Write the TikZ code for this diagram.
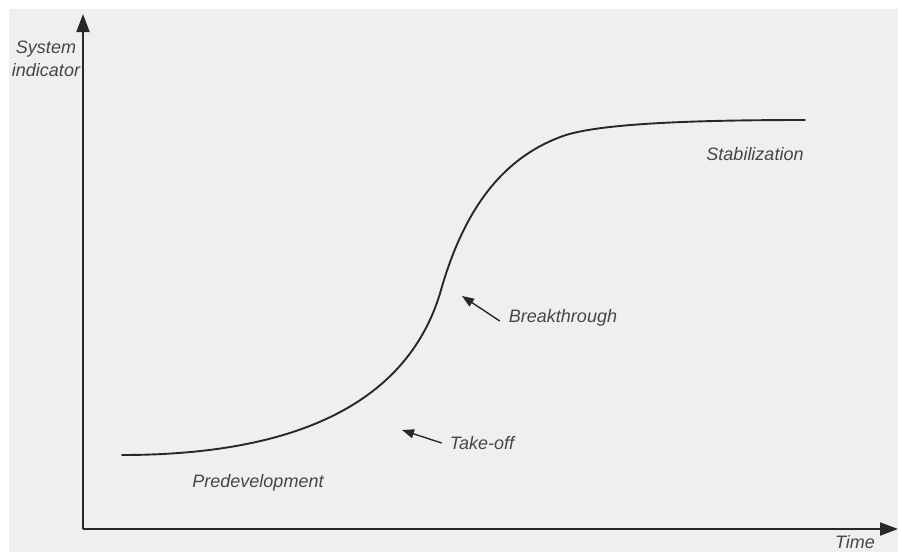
\documentclass[tikz,border=0pt]{standalone}
\usepackage{fontspec}
\setmainfont{Liberation Sans}
\usetikzlibrary{arrows.meta}
\definecolor{bgc}{RGB}{239,239,239}
\definecolor{ink}{RGB}{40,40,40}
\definecolor{txt}{RGB}{70,70,70}
\tikzset{
  axis/.style={draw=ink, line width=2pt, -{Triangle[length=18pt,width=13pt]}},
  curve/.style={draw=ink, line width=1.9pt, line cap=round},
  lbl/.style={text=txt, font=\fontsize{18}{23}\selectfont\itshape, inner sep=0pt},
  pointer/.style={draw=ink, line width=1.4pt, -{Triangle[length=12pt,width=9pt]}}
}
\begin{document}
\begin{tikzpicture}[x=1pt,y=-1pt]
\useasboundingbox (0,0) rectangle (902,552);
\fill[bgc] (9,9) rectangle (898,552);
% axes
\coordinate (O) at (83,529);
\coordinate (ytop) at (83,14);
\coordinate (xend) at (898,529);
\draw[axis] (O) -- (ytop);
\draw[axis] (O) -- (xend);
% S-curve
\coordinate (c0) at (122,455);
\coordinate (c1) at (441,290);
\coordinate (c2) at (563,136);
\coordinate (c3) at (805,120);
\draw[curve] (c0) .. controls (320,455) and (413,388) .. (c1)
  .. controls (467,199) and (510,155) .. (c2)
  .. controls (600,123) and (700,120) .. (c3);
% labels
\node[lbl, align=center] (yl) at (46,59) {System\\indicator};
\node[lbl] (xl) at (855,542) {Time};
\node[lbl] (stab) at (755,154) {Stabilization};
\node[lbl] (bt) at (563,318) {Breakthrough};
\node[lbl] (to) at (482,443) {Take-off};
\node[lbl] (pre) at (258,483) {Predevelopment};
% pointers
\coordinate (bttip) at (462,296);
\coordinate (totip) at (402,430);
\draw[pointer] ([xshift=-9pt,yshift=-3pt]bt.west) -- (bttip);
\draw[pointer] ([xshift=-8pt,yshift=0pt]to.west) -- (totip);
\end{tikzpicture}
\end{document}
